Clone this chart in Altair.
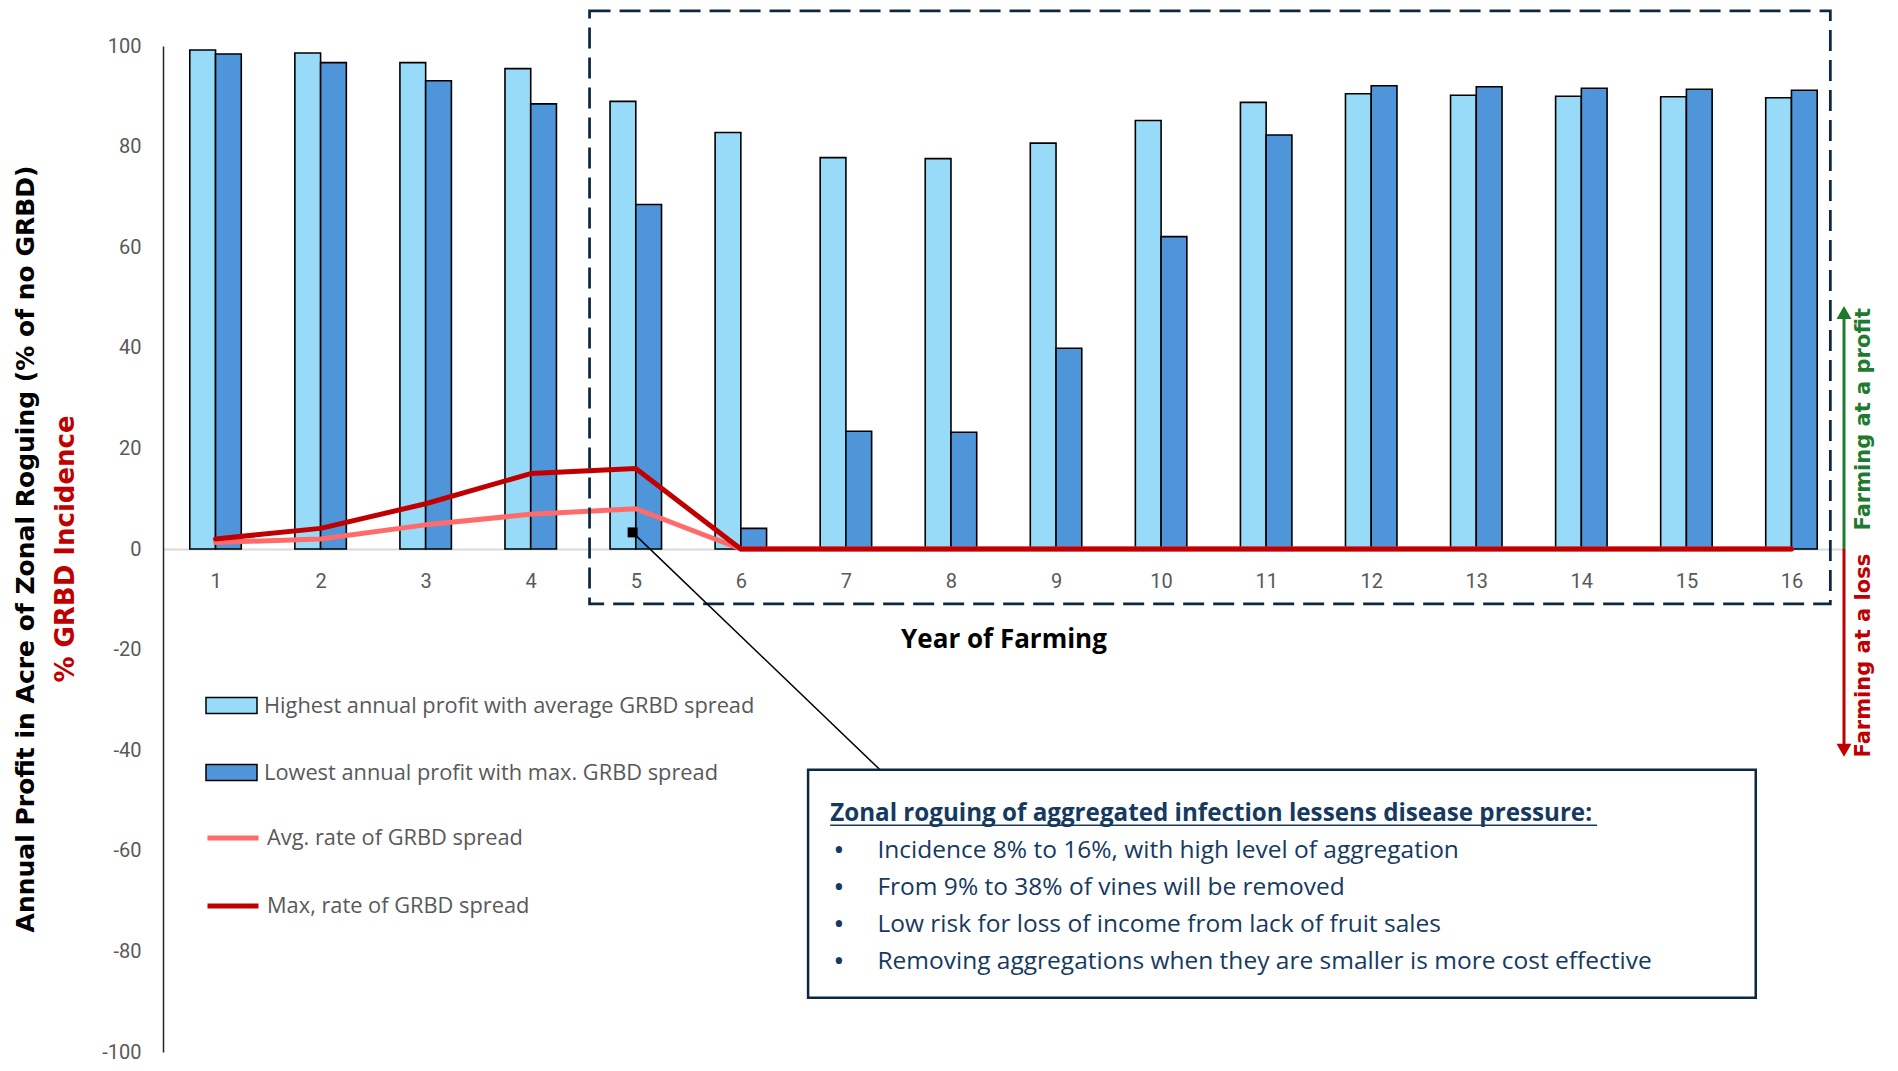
import pandas as pd
import altair as alt

# values (% of no GRBD profit, % incidence)
years = list(range(1, 17))
highest_profit = [99.2, 98.6, 96.7, 95.5, 89.0, 82.8, 77.8, 77.6, 80.7, 85.2, 88.8, 90.5, 90.2, 90.0, 89.9, 89.7]
lowest_profit = [98.4, 96.7, 93.1, 88.5, 68.5, 4.1, 23.4, 23.2, 39.9, 62.1, 82.3, 92.1, 91.9, 91.6, 91.4, 91.2]
avg_rate = [1.3, 2.0, 4.8, 6.9, 8.0, 0, 0, 0, 0, 0, 0, 0, 0, 0, 0, 0]
max_rate = [2.0, 4.1, 9.0, 15.0, 16.0, 0, 0, 0, 0, 0, 0, 0, 0, 0, 0, 0]

bar_names = ["Highest annual profit with average GRBD spread", "Lowest annual profit with max. GRBD spread"]
line_names = ["Avg. rate of GRBD spread", "Max, rate of GRBD spread"]
y_ticks = [-100, -80, -60, -40, -20, 0, 20, 40, 60, 80, 100]

box_title = "Zonal roguing of aggregated infection lessens disease pressure:"
box_lines = [
    "Incidence 8% to 16%, with high level of aggregation",
    "From 9% to 38% of vines will be removed",
    "Low risk for loss of income from lack of fruit sales",
    "Removing aggregations when they are smaller is more cost effective",
]

W, H = 1681, 1006
NAVY = "#0E2841"
TEXT_NAVY = "#163A5F"
GRAY = "#595959"
GREEN = "#1E7B2E"
RED = "#C00000"

bar_df = pd.DataFrame({
    "year": years * 2,
    "k": [0] * 16 + [1] * 16,
    "series": [bar_names[0]] * 16 + [bar_names[1]] * 16,
    "profit": highest_profit + lowest_profit,
})
line_df = pd.DataFrame({
    "year": years * 2,
    "rate": [line_names[0]] * 16 + [line_names[1]] * 16,
    "pct": avg_rate + max_rate,
})
one = pd.DataFrame({"k": [0]})

xscale = alt.Scale(domain=[0.5, 16.5], nice=False, zero=False)
yscale = alt.Scale(domain=[-100, 100], nice=False)

x_axis = alt.Axis(
    values=years, format="d", offset=-H / 2, grid=False, ticks=False, tickSize=0,
    domainColor="#D9D9D9", domainWidth=2, labelFont="Roboto", labelFontSize=20,
    labelColor=GRAY, labelPadding=22, title="Year of Farming", titleFont="Open Sans",
    titleFontSize=26, titleFontWeight="bold", titleColor="black", titlePadding=35,
)
y_axis = alt.Axis(
    values=y_ticks, grid=False, ticks=False, tickSize=0, domainColor="#262626",
    domainWidth=1.5, labelFont="Roboto", labelFontSize=20, labelColor=GRAY,
    labelPadding=22, labelExpr="'' + datum.value", title=None,
)

bars = alt.Chart(bar_df).transform_calculate(
    x0="datum.year - 0.245 + datum.k * 0.245",
    x1="datum.year + datum.k * 0.245",
).mark_bar(stroke="black", strokeWidth=1.6).encode(
    x=alt.X("x0:Q", scale=xscale, axis=x_axis),
    x2="x1:Q",
    y=alt.Y("profit:Q", scale=yscale, axis=y_axis),
    y2=alt.datum(0),
    fill=alt.Fill(
        "series:N",
        scale=alt.Scale(domain=bar_names, range=["#97DBF8", "#4F95D9"]),
        legend=alt.Legend(
            title=None, orient="none", legendX=42, legendY=633,
            symbolType="M-1,-0.31H1V0.31H-1Z", symbolSize=2601,
            symbolStrokeColor="black", symbolStrokeWidth=1.5, symbolOpacity=1,
            labelFont="Open Sans", labelFontSize=21.8, labelColor=GRAY,
            labelOffset=6, rowPadding=28, labelLimit=0,
        ),
    ),
)

lines = alt.Chart(line_df).mark_line(strokeWidth=5, strokeCap="round", strokeJoin="round").encode(
    x="year:Q",
    y="pct:Q",
    stroke=alt.Stroke(
        "rate:N",
        scale=alt.Scale(domain=line_names, range=["#FF6B6B", RED]),
        legend=alt.Legend(
            title=None, orient="none", legendX=42, legendY=764,
            symbolType="stroke", symbolSize=2601, symbolStrokeWidth=5,
            labelFont="Open Sans", labelFontSize=21.8, labelColor=GRAY,
            labelOffset=6, rowPadding=28, labelLimit=0,
        ),
    ),
)

# dashed frame round years 5-16
frame = alt.Chart(one).mark_rect(fillOpacity=0, stroke=NAVY, strokeWidth=2.75, strokeDash=[21, 9]).encode(
    x=alt.datum(4.56), x2=alt.datum(16.37), y=alt.datum(107.0), y2=alt.datum(-10.9)
)

marker = alt.Chart(one).mark_square(size=100, color="black", opacity=1).encode(
    x=alt.datum(4.97), y=alt.datum(3.3)
)
connector = alt.Chart(one).mark_rule(color="black", strokeWidth=1.5).encode(
    x=alt.datum(4.97), y=alt.datum(3.3), x2=alt.datum(7.32), y2=alt.datum(-43.8)
)

box = alt.Chart(one).mark_rect(fill="white", stroke=NAVY, strokeWidth=2.5).encode(
    x=alt.datum(6.64), x2=alt.datum(15.66), y=alt.datum(-43.9), y2=alt.datum(-89.2)
)
box_head = alt.Chart(one).mark_text(
    align="left", baseline="middle", font="Open Sans", fontSize=24.2, fontWeight="bold", color=TEXT_NAVY
).encode(x=alt.datum(6.85), y=alt.datum(-52.75), text=alt.value(box_title))
underline = alt.Chart(one).mark_rule(color=TEXT_NAVY, strokeWidth=1.5).encode(
    x=alt.datum(6.85), x2=alt.datum(14.15), y=alt.datum(-54.9)
)
bullets = alt.Chart(one).mark_text(
    align="left", baseline="middle", font="Open Sans", fontSize=30, lineHeight=37, color=TEXT_NAVY
).encode(x=alt.datum(6.88), y=alt.datum(-60.0), text=alt.value(["•"] * len(box_lines)))
box_body = alt.Chart(one).mark_text(
    align="left", baseline="middle", font="Open Sans", fontSize=24.5, lineHeight=37, color=TEXT_NAVY
).encode(x=alt.datum(7.3), y=alt.datum(-60.0), text=alt.value(box_lines))

# y axis titles drawn as text so the two lines can differ in colour
y_title = alt.Chart(one).mark_text(
    angle=270, align="center", baseline="middle", font="DejaVu Sans", fontSize=25, fontWeight="bold", color="black"
).encode(x=alt.datum(-0.80), y=alt.datum(0), text=alt.value("Annual Profit in Acre of Zonal Roguing (% of no GRBD)"))
y_title2 = alt.Chart(one).mark_text(
    angle=270, align="center", baseline="middle", font="DejaVu Sans", fontSize=26, fontWeight="bold", color=RED
).encode(x=alt.datum(-0.42), y=alt.datum(0), text=alt.value("% GRBD Incidence"))

# profit / loss arrows on the right edge
up_line = alt.Chart(one).mark_rule(color=GREEN, strokeWidth=3).encode(
    x=alt.datum(16.5), y=alt.datum(0), y2=alt.datum(47.5)
)
up_head = alt.Chart(one).mark_point(shape="triangle-up", filled=True, size=225, color=GREEN, opacity=1).encode(
    x=alt.datum(16.5), y=alt.datum(47.0)
)
down_line = alt.Chart(one).mark_rule(color=RED, strokeWidth=3).encode(
    x=alt.datum(16.5), y=alt.datum(0), y2=alt.datum(-40.5)
)
down_head = alt.Chart(one).mark_point(shape="triangle-down", filled=True, size=225, color=RED, opacity=1).encode(
    x=alt.datum(16.5), y=alt.datum(-40.0)
)
profit_txt = alt.Chart(one).mark_text(
    angle=270, align="center", baseline="middle", font="DejaVu Sans", fontSize=21, fontWeight="bold", color=GREEN
).encode(x=alt.datum(16.69), y=alt.datum(25.8), text=alt.value("Farming at a profit"))
loss_txt = alt.Chart(one).mark_text(
    angle=270, align="center", baseline="middle", font="DejaVu Sans", fontSize=21, fontWeight="bold", color=RED
).encode(x=alt.datum(16.69), y=alt.datum(-21.2), text=alt.value("Farming at a loss"))

chart = alt.layer(
    bars, lines, frame, connector, marker, box, box_head, underline, bullets, box_body,
    y_title, y_title2, up_line, up_head, down_line, down_head, profit_txt, loss_txt,
).properties(
    width=W, height=H,
    autosize=alt.AutoSizeParams(type="none"),
    padding={"left": 155, "top": 38, "right": 46, "bottom": 11},
    background="white",
).configure_view(strokeWidth=0)

chart.save("out.html", embed_options={"renderer": "svg", "actions": False})
